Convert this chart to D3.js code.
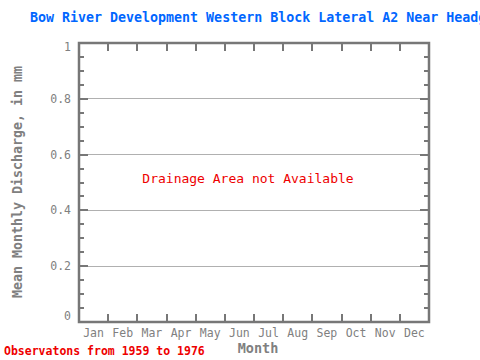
<!DOCTYPE html>
<html><head><meta charset="utf-8">
<script src="https://cdn.jsdelivr.net/npm/d3@7"></script>
<style>body{margin:0;background:#fff}svg{display:block}text{font-family:"DejaVu Sans Mono",monospace}</style>
</head><body><svg id="c" width="480" height="360"></svg>
<script>
const months = ["Jan","Feb","Mar","Apr","May","Jun","Jul","Aug","Sep","Oct","Nov","Dec"];
const yTicks = [0, 0.2, 0.4, 0.6, 0.8, 1];
const yTickLabels = ["0","0.2","0.4","0.6","0.8","1"];
const yMinor = d3.range(0, 1.0001, 0.05);
const title = "Bow River Development Western Block Lateral A2 Near Headgates";
const note = "Drainage Area not Available";
const footer = "Observatons from 1959 to 1976";
const yLabel = "Mean Monthly Discharge, in mm";
const xLabel = "Month";

const svg = d3.select("#c");
const L = 79, R = 429, T = 43, B = 322;
const x = d3.scaleBand().domain(months).range([L, R]).paddingInner(0).paddingOuter(0);
const y = d3.scaleLinear().domain([0, 1]).range([B, T]);
const axisCol = "#777", textCol = "#808080";

// gridlines
svg.append("g").selectAll("line").data(yTicks.filter(d => d > 0 && d < 1)).join("line")
  .attr("x1", L).attr("x2", R).attr("y1", d => y(d)).attr("y2", d => y(d))
  .attr("stroke", "#b0b0b0").attr("stroke-width", 1).attr("shape-rendering","crispEdges");

// minor ticks left & right
const mt = svg.append("g").attr("stroke", axisCol).attr("stroke-width", 2).attr("shape-rendering","crispEdges");
yMinor.forEach(v => {
  const isMajor = yTicks.some(t => Math.abs(t - v) < 1e-6);
  const len = isMajor ? 9 : 5;
  mt.append("line").attr("x1", L).attr("x2", L + len).attr("y1", y(v)).attr("y2", y(v));
  mt.append("line").attr("x1", R).attr("x2", R - len).attr("y1", y(v)).attr("y2", y(v));
});
// month boundary ticks top & bottom
months.slice(1).forEach(m => {
  const xv = x(m);
  mt.append("line").attr("x1", xv).attr("x2", xv).attr("y1", B).attr("y2", B - 8);
  mt.append("line").attr("x1", xv).attr("x2", xv).attr("y1", T).attr("y2", T + 8);
});

// frame
svg.append("rect").attr("x", L).attr("y", T).attr("width", R - L).attr("height", B - T)
  .attr("fill", "none").attr("stroke", axisCol).attr("stroke-width", 2.5);

// y tick labels
svg.append("g").selectAll("text").data(yTicks).join("text")
  .attr("x", 71).attr("y", (d, i) => y(d) + (d === 1 ? 4 : d === 0 ? -6 : 0))
  .attr("dy", "0.35em").attr("text-anchor", "end")
  .attr("font-size", 11.5).attr("fill", textCol)
  .text((d, i) => yTickLabels[i]);

// month labels
svg.append("g").selectAll("text").data(months).join("text")
  .attr("x", d => x(d) + x.bandwidth() / 2).attr("y", 337)
  .attr("text-anchor", "middle").attr("font-size", 11.5).attr("fill", textCol)
  .text(d => d);

// title
svg.append("text").attr("x", 30).attr("y", 22).attr("font-size", 13.3).attr("font-weight", "bold")
  .attr("fill", "#0066ff").text(title);

// note
svg.append("text").attr("x", (L + R) / 2 - 6).attr("y", 183).attr("text-anchor", "middle")
  .attr("font-size", 13).attr("fill", "#ee0000").text(note);

// footer
svg.append("text").attr("x", 4).attr("y", 355).attr("font-size", 11.5).attr("font-weight", "bold")
  .attr("fill", "#ee0000").text(footer);

// axis titles
svg.append("text").attr("x", 258).attr("y", 353).attr("text-anchor", "middle")
  .attr("font-size", 13.5).attr("font-weight", "bold").attr("fill", textCol).text(xLabel);
svg.append("text").attr("transform", "translate(22,182) rotate(-90)").attr("text-anchor", "middle")
  .attr("font-size", 13.3).attr("font-weight", "bold").attr("fill", textCol).text(yLabel);
</script></body></html>
